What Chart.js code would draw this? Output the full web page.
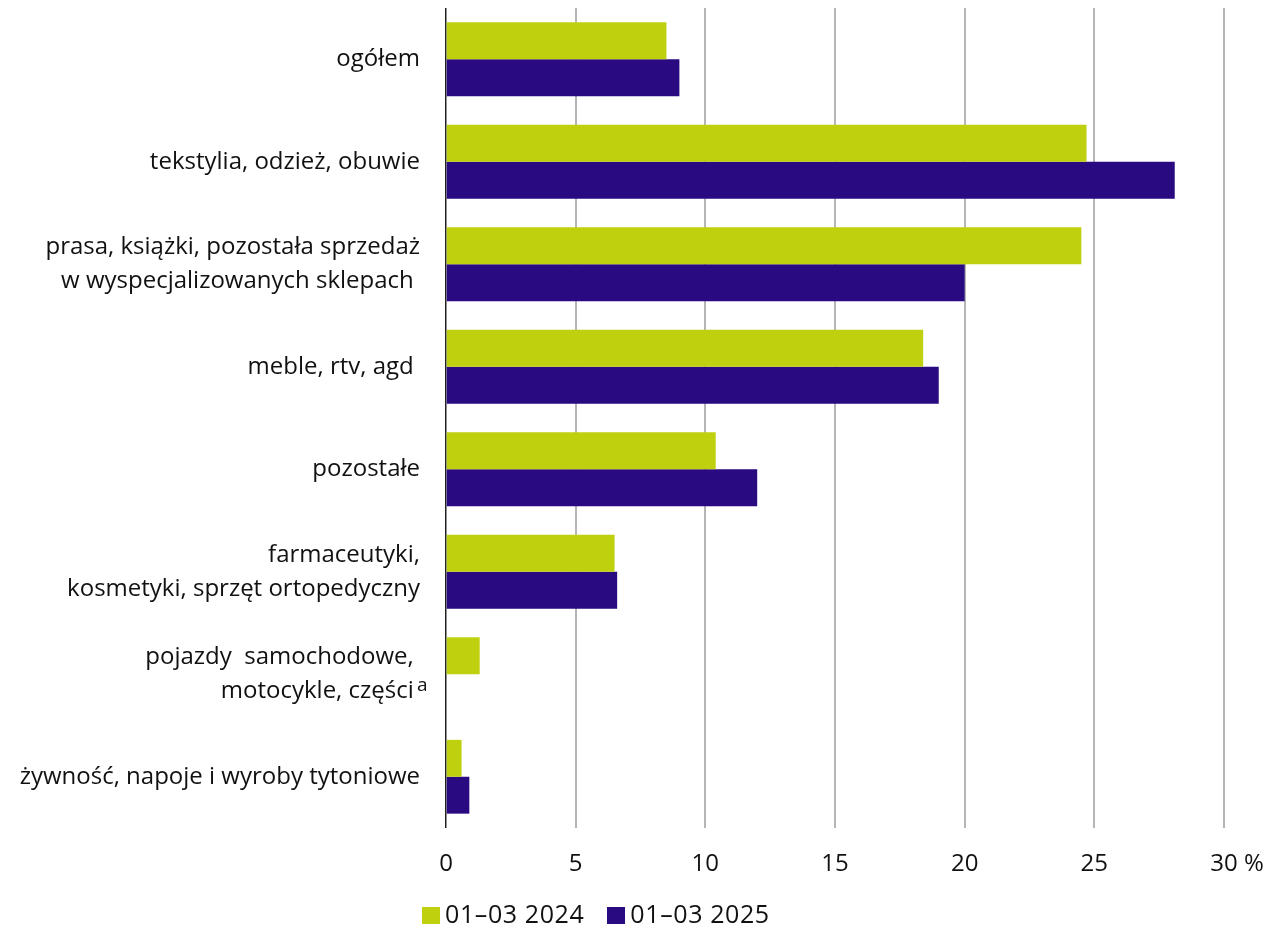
<!DOCTYPE html>
<html>
<head>
<meta charset="utf-8">
<title>Sprzedaż przez internet</title>
<script src="https://cdn.jsdelivr.net/npm/chart.js@4/dist/chart.umd.min.js"></script>
<style>
  html, body { margin: 0; padding: 0; background: #fff; }
  #wrap { position: relative; width: 1280px; height: 925px; }
  #legend { position: absolute; left: 422px; top: 898px; height: 30px; font: 25px/30px "Open Sans", sans-serif; letter-spacing: 0.6px; color: #111; display: flex; gap: 23px; }
  #legend .item { display: flex; align-items: center; }
  #legend span.box { display: inline-block; width: 18px; height: 17px; margin: 4px 5px 0 0; }
</style>
</head>
<body>
<div id="wrap">
  <canvas id="c" width="1280" height="925"></canvas>
  <div id="legend"></div>
</div>
<script>
// categories (top to bottom)
var categories = [
  'ogółem',
  'tekstylia, odzież, obuwie',
  ['prasa, książki, pozostała sprzedaż', 'w wyspecjalizowanych sklepach '],
  'meble, rtv, agd ',
  'pozostałe',
  ['farmaceutyki,', 'kosmetyki, sprzęt ortopedyczny'],
  ['pojazdy  samochodowe, ', 'motocykle, części '],
  'żywność, napoje i wyroby tytoniowe'
];
var seriesNames = ['01–03 2024', '01–03 2025'];
var values2024 = [8.5, 24.7, 24.5, 18.4, 10.4, 6.5, 1.3, 0.6];
var values2025 = [9.0, 28.1, 20.0, 19.0, 12.0, 6.6, null, 0.9];
var xTicks = [0, 5, 10, 15, 20, 25, 30];

var colors = ['#bfd00f', '#290a80'];
var font = '"Open Sans", sans-serif';

// percent sign after the last tick, footnote mark after "części"
var extrasPlugin = {
  id: 'extras',
  afterDraw: function(chart) {
    var x = chart.scales.x, y = chart.scales.y;
    var ctx = chart.ctx;
    ctx.save();
    ctx.fillStyle = '#111';
    ctx.font = '24px ' + font;
    ctx.textBaseline = 'middle';
    ctx.textAlign = 'left';
    ctx.fillText('%', x.getPixelForValue(30) + 20, 864);
    ctx.font = '19px ' + font;
    ctx.textBaseline = 'alphabetic';
    ctx.fillText('a', 417, y.getPixelForValue(6) + 17);
    ctx.restore();
  }
};

var chart = new Chart(document.getElementById('c'), {
  type: 'bar',
  data: {
    labels: categories,
    datasets: [
      { label: seriesNames[0], data: values2024, backgroundColor: colors[0] },
      { label: seriesNames[1], data: values2025, backgroundColor: colors[1] }
    ]
  },
  options: {
    indexAxis: 'y',
    responsive: false,
    animation: false,
    categoryPercentage: 0.72,
    barPercentage: 1.0,
    layout: { padding: { top: 8, right: 56, left: 0, bottom: 0 } },
    plugins: { legend: { display: false }, tooltip: { enabled: false } },
    scales: {
      x: {
        min: 0, max: 30,
        afterBuildTicks: function(s) { s.ticks = xTicks.map(function(v) { return { value: v }; }); },
        afterFit: function(s) { s.height = 97; s.paddingLeft = 0; s.paddingRight = 0; },
        border: { display: false },
        grid: {
          color: function(c) { return c.tick.value === 0 ? '#222' : '#b5b5b5'; },
          lineWidth: function(c) { return c.tick.value === 0 ? 1.5 : 2; },
          drawTicks: false
        },
        ticks: { color: '#111', font: { family: font, size: 24 }, padding: 22, maxRotation: 0 }
      },
      y: {
        afterFit: function(s) { s.width = 446; s.paddingTop = 0; s.paddingBottom = 0; },
        border: { display: false },
        grid: { display: false },
        ticks: { color: '#111', font: { family: font, size: 24, lineHeight: 1.42 }, padding: 18 }
      }
    }
  },
  plugins: [extrasPlugin]
});

var lg = document.getElementById('legend');
seriesNames.forEach(function(n, i) {
  var d = document.createElement('div');
  d.className = 'item';
  d.innerHTML = '<span class="box" style="background:' + colors[i] + '"></span>' + n;
  lg.appendChild(d);
});
</script>
</body>
</html>
